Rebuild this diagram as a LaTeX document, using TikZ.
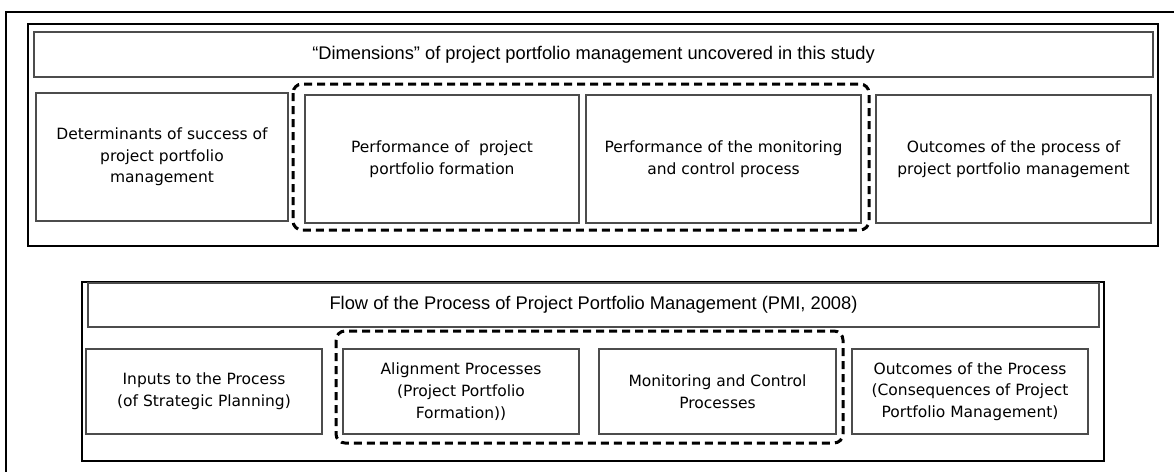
\documentclass[tikz,border=0pt]{standalone}
\usepackage{fontspec}
\setmainfont{DejaVu Sans}
\newfontfamily\titlefont{Liberation Sans}
\usetikzlibrary{positioning}

\tikzset{
    dimbox/.style={draw=black!70, line width=1.1pt, align=center, inner sep=0pt,
        font=\fontsize{15.5}{21.7}\selectfont},
    titlebox/.style={draw=black!70, line width=1.1pt, inner sep=0pt,
        font=\titlefont\fontsize{18.3}{22}\selectfont},
    groupframe/.style={draw, line width=2.6pt},
    groupdash/.style={draw, line width=3pt, dash pattern=on 8pt off 5pt, rounded corners=9pt},
}

\begin{document}
\begin{tikzpicture}[x=1pt, y=-1pt]
        \useasboundingbox (0,0) rectangle (1174,471);
        % outer frame (runs off the page)
        \draw[line width=1.8pt] (6,1200) -- (6,12) -- (1300,12);

        % dimensions uncovered in this study
        \draw[groupframe] (28,24) rectangle (1158,246);
        \node[titlebox, minimum width=1119pt, minimum height=45pt] (dimtitle) at (593.5,54.5)
            {“Dimensions” of project portfolio management uncovered in this study};
        \node[dimbox, minimum width=252pt, minimum height=128pt] (dim1) at (162,157)
            {Determinants of success of\\project portfolio\\management};
        \node[dimbox, minimum width=274pt, minimum height=128pt] (dim2) at (442,159)
            {Performance of\ \ project\\portfolio formation};
        \node[dimbox, minimum width=275pt, minimum height=128pt] (dim3) at (723.5,159)
            {Performance of the monitoring\\and control process};
        \node[dimbox, minimum width=275pt, minimum height=128pt] (dim4) at (1013.5,159)
            {Outcomes of the process of\\project portfolio management};
        \draw[groupdash] (293,84) rectangle (869,230);

        % flow of the process (PMI)
        \draw[groupframe] (82,282) rectangle (1104,461);
        \node[titlebox, minimum width=1011pt, minimum height=44pt] (flowtitle) at (593.5,305)
            {Flow of the Process of Project Portfolio Management (PMI, 2008)};
        \node[dimbox, minimum width=236pt, minimum height=85pt] (flow1) at (204,391.5)
            {Inputs to the Process\\(of Strategic Planning)};
        \node[dimbox, minimum width=236pt, minimum height=85pt] (flow2) at (461,391.5)
            {Alignment Processes\\(Project Portfolio\\Formation))};
        \node[dimbox, minimum width=237pt, minimum height=85pt] (flow3) at (717.5,391.5)
            {Monitoring and Control\\Processes};
        \node[dimbox, minimum width=236pt, minimum height=85pt] (flow4) at (970,391.5)
            {Outcomes of the Process\\(Consequences of Project\\Portfolio Management)};
        \draw[groupdash] (336,331) rectangle (843,443);
\end{tikzpicture}
\end{document}
